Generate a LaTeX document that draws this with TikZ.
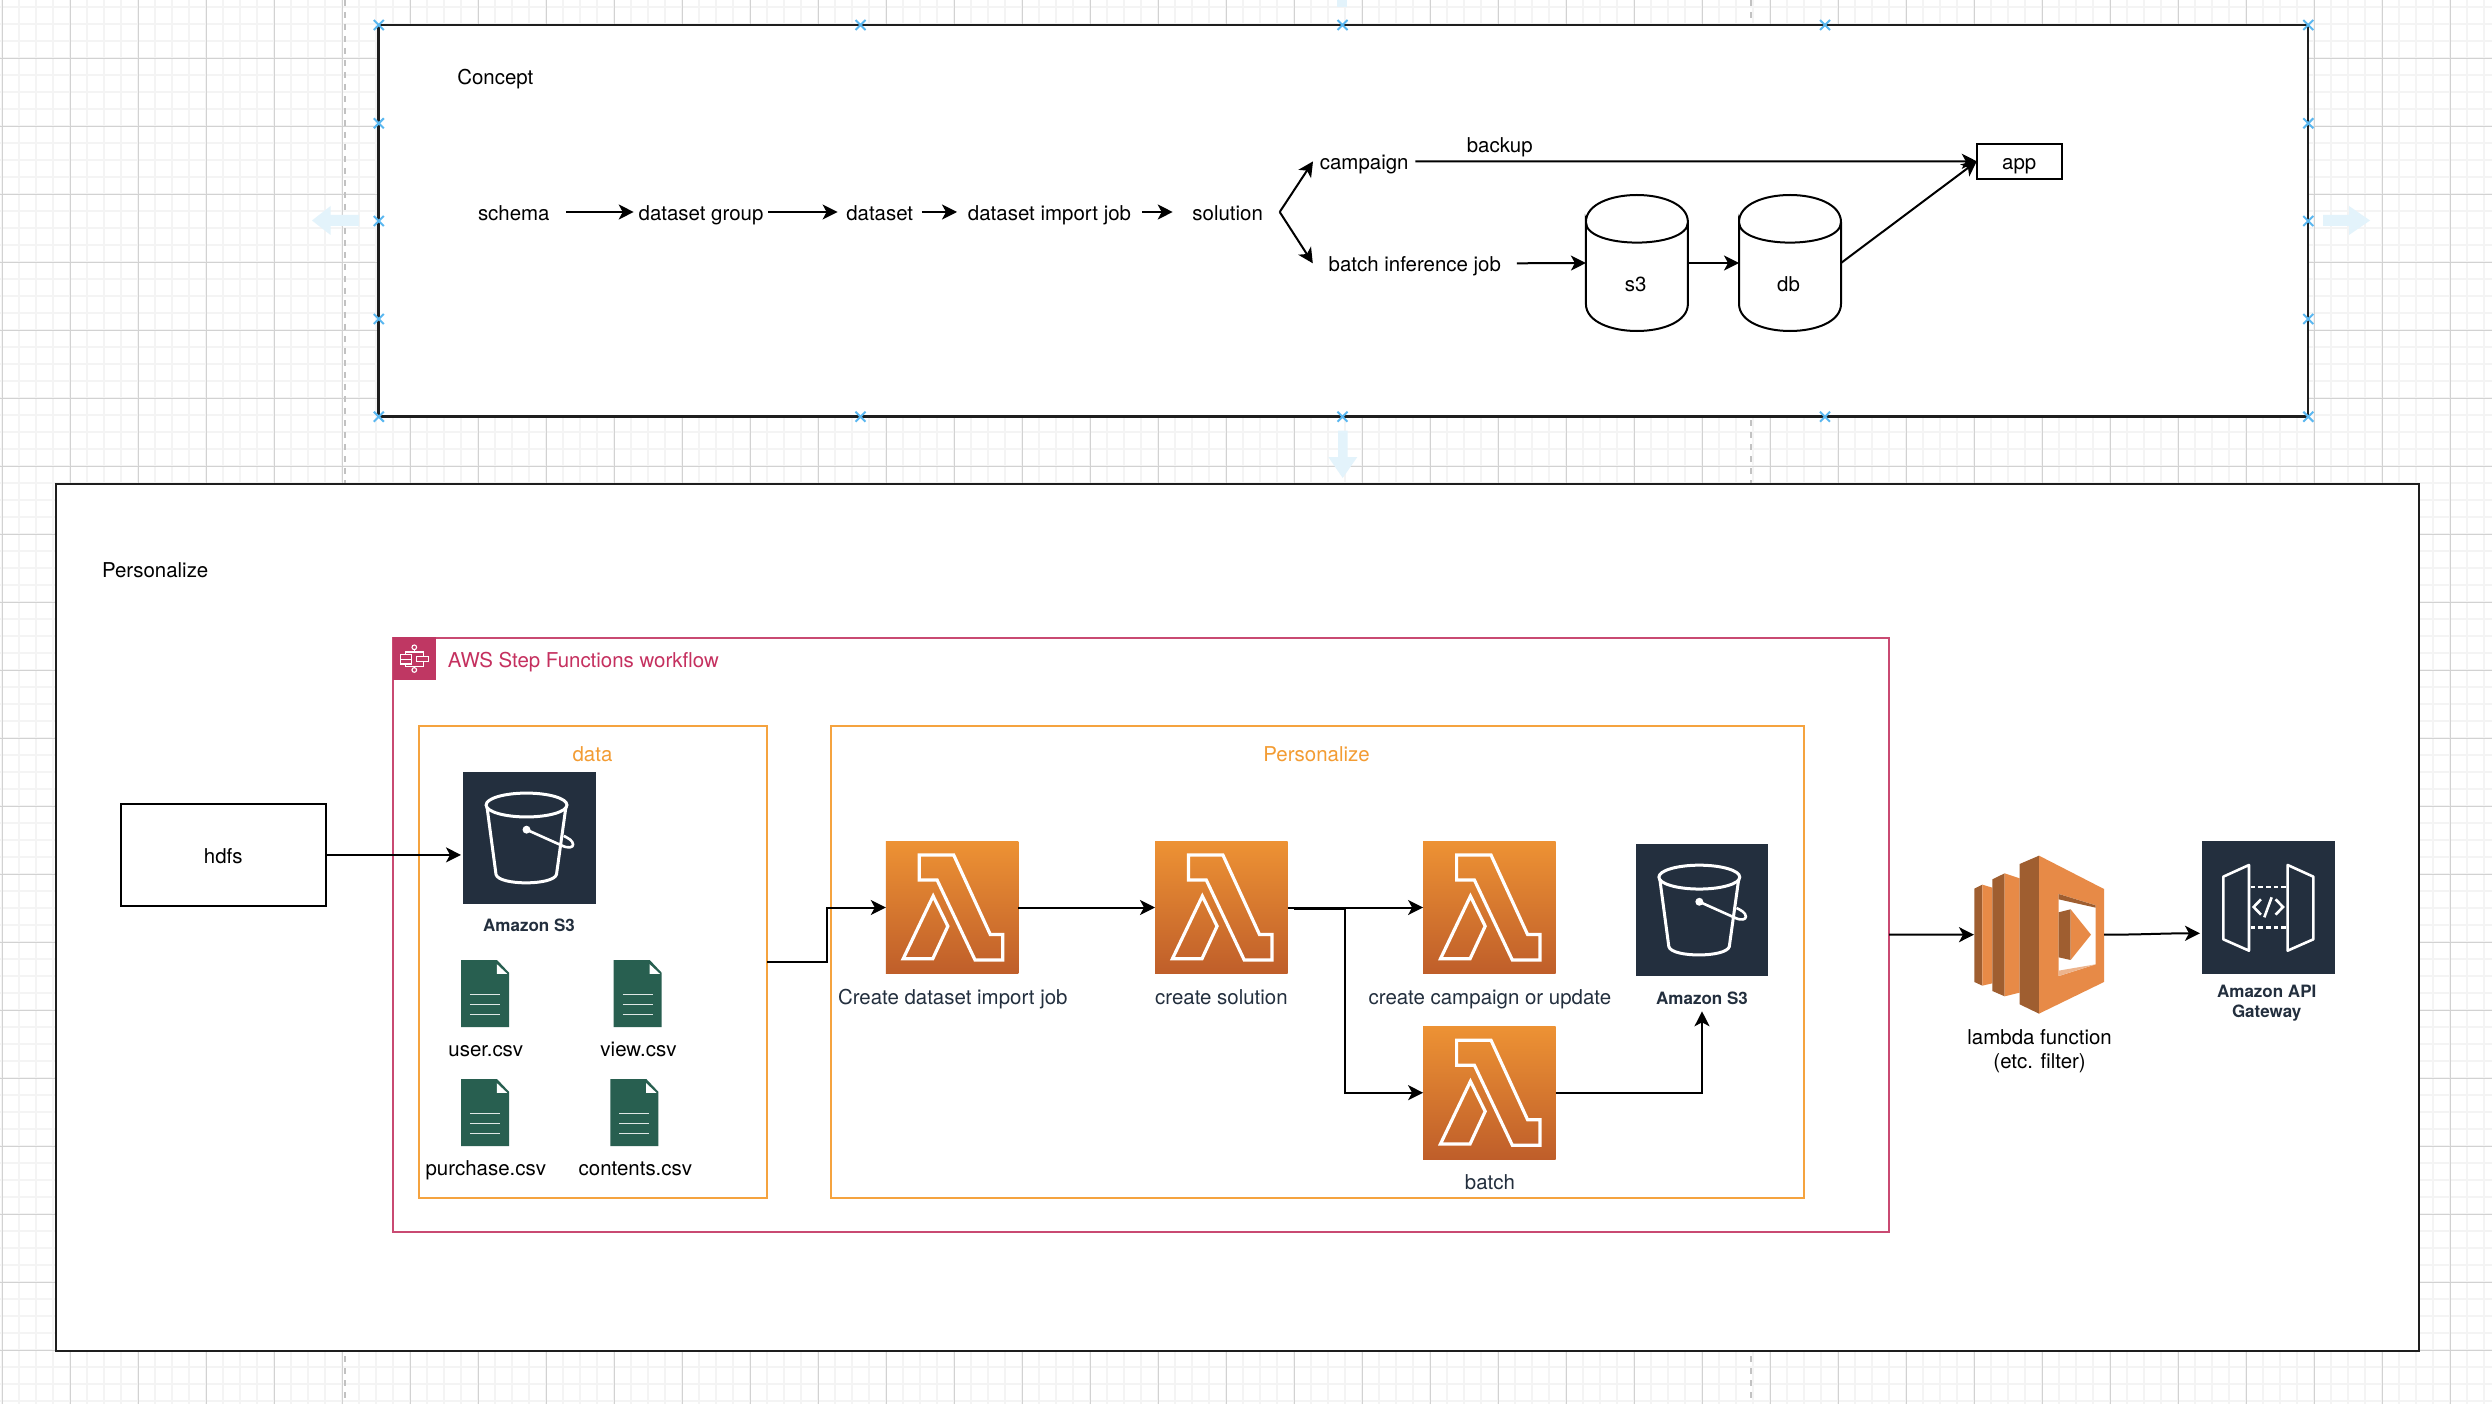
\documentclass[tikz,border=0pt]{standalone}
\usepackage{fontspec}
\setmainfont{TeX Gyre Heros}
\usetikzlibrary{arrows.meta,calc}
\definecolor{gridmajor}{HTML}{D2D2D2}
\definecolor{gridminor}{HTML}{F4F4F4}
\definecolor{pagedash}{HTML}{C2C2C2}
\definecolor{hintblue}{HTML}{5AB7F0}
\definecolor{ghostblue}{HTML}{E3F3FB}
\definecolor{framedark}{HTML}{1E1E1E}
\definecolor{awsdark}{HTML}{232F3E}
\definecolor{stepfill}{HTML}{BF3763}
\definecolor{stepline}{HTML}{C94A72}
\definecolor{steptext}{HTML}{C5305F}
\definecolor{boxorange}{HTML}{F5A33F}
\definecolor{textorange}{HTML}{F39C33}
\definecolor{lamtop}{HTML}{ED9234}
\definecolor{lambot}{HTML}{BF5E2A}
\definecolor{lflight}{HTML}{E78A47}
\definecolor{lfdark}{HTML}{9F5E30}
\definecolor{lfpale}{HTML}{EDB48C}
\definecolor{filegreen}{HTML}{285F50}
\newcommand\fnorm{\fontsize{20.45}{24}\selectfont}
\newcommand\fbold{\fontsize{17}{20}\selectfont\bfseries}
\tikzset{
  txt/.style={inner sep=0,outer sep=0,font=\fnorm,text height=19pt,text depth=3pt,text=black,align=center},
  rowtxt/.style={txt,text height=20pt,text depth=2pt},
  awstxt/.style={txt,text=awsdark},
  awsbold/.style={inner sep=0,outer sep=0,font=\fbold,text=awsdark,align=center,text height=16pt,text depth=2pt},
  block/.style={inner sep=0,outer sep=0,font=\fnorm,text=black,align=center},
  cnx/.style={draw=black,line width=2pt,-{Stealth[length=15pt,width=15pt,inset=4pt]}},
  frame/.style={draw=framedark,line width=2.2pt,fill=white,inner sep=0,outer sep=0},
  orangebox/.style={draw=boxorange,line width=2pt,inner sep=0,outer sep=0},
  lambdabox/.style={inner sep=0,outer sep=0,minimum width=132.6pt,minimum height=132.6pt,shading=axis,top color=lamtop,bottom color=lambot},
  darkbox/.style={inner sep=0,outer sep=0,minimum width=132.6pt,minimum height=132.6pt,fill=awsdark},
  filebox/.style={inner sep=0,outer sep=0,minimum width=48pt,minimum height=67pt},
  cylbox/.style={inner sep=0,outer sep=0,minimum width=102pt,minimum height=136pt},
  hintcross/.style={draw=hintblue,line width=2pt},
  glyph/.style={draw=white,line width=3.2pt,line join=miter},
  stepglyph/.style={draw=white,line width=1.1pt},
}
\newcommand\lambdaglyph[1]{%
  \begin{scope}[shift={(#1.north west)},x=132.6pt,y=-132.6pt]
    \draw[glyph] (.2525,.104)--(.512,.104)--(.788,.704)--(.882,.704)--(.882,.896)--(.673,.896)--(.387,.293)--(.2525,.293)--cycle;
    \draw[glyph] (.357,.414)--(.468,.641)--(.354,.887)--(.131,.887)--cycle;
  \end{scope}}
\newcommand\bucketglyph[1]{%
  \begin{scope}[shift={(#1.north west)},x=132.6pt,y=-132.6pt]
    \draw[glyph,line width=3pt] (.479,.252) ellipse [x radius=.305,y radius=.09];
    \draw[glyph,line width=3pt] (.181,.267)--(.249,.776) .. controls (.27,.86) and (.68,.86) .. (.705,.776)--(.776,.267);
    \draw[glyph,line width=2.6pt] (.479,.438)--(.74,.555) .. controls (.80,.585) and (.83,.57) .. (.83,.55) .. controls (.83,.52) and (.79,.50) .. (.76,.485);
    \fill[white] (.479,.438) circle [radius=.03];
  \end{scope}}
\newcommand\fileglyph[1]{%
  \begin{scope}[shift={(#1.north west)},x=48pt,y=-67pt]
    \fill[filegreen] (0,0)--(.75,0)--(1,.19)--(1,1)--(0,1)--cycle;
    \fill[white] (.748,.063)--(.963,.207)--(.748,.207)--cycle;
    \draw[white!85!filegreen,line width=1.3pt] (.187,.517)--(.813,.517) (.187,.667)--(.813,.667) (.187,.816)--(.813,.816);
  \end{scope}}
\newcommand\cylglyph[1]{%
  \begin{scope}[shift={(#1.north west)},x=102pt,y=-136pt]
    \draw[black,line width=2pt,fill=white] (0,.2) .. controls (0,-.0667) and (1,-.0667) .. (1,.2) .. controls (1,.4) and (0,.4) .. (0,.2) -- (0,.8) .. controls (0,1.0667) and (1,1.0667) .. (1,.8) -- (1,.2);
  \end{scope}}
\begin{document}
\begin{tikzpicture}[x=1pt,y=-1pt]
\useasboundingbox (0,0) rectangle (2492,1404);
\fill[white] (0,0) rectangle (2492,1404);
% grid
\foreach \k in {0,...,146} \draw[gridminor,line width=1.7pt] ({2+17*\k},0) -- ({2+17*\k},1404);
\foreach \k in {0,...,82} \draw[gridminor,line width=1.7pt] (0,{7.3+17*\k}) -- (2492,{7.3+17*\k});
\foreach \k in {0,...,36} \draw[gridmajor,line width=1.2pt] ({2.4+68*\k},0) -- ({2.4+68*\k},1404);
\foreach \k in {0,...,19} \draw[gridmajor,line width=1.2pt] (0,{58.3+68*\k}) -- (2492,{58.3+68*\k});
% page breaks
\draw[pagedash,line width=2pt,dash pattern=on 6pt off 6pt] (344.7,0) -- (344.7,1404);
\draw[pagedash,line width=2pt,dash pattern=on 6pt off 6pt] (1751,0) -- (1751,1404);
% ghost arrows
\fill[ghostblue] (359,215)--(330.6,215)--(330.6,206)--(312,220.5)--(330.6,235)--(330.6,226)--(359,226)--cycle;
\fill[ghostblue] (2323,215)--(2349,215)--(2349,206)--(2370,220.5)--(2349,235)--(2349,226)--(2323,226)--cycle;
\fill[ghostblue] (1337.3,0) rectangle (1346.7,6.7);
\fill[ghostblue] (1338,430.7)--(1338,457)--(1328.3,457)--(1342.7,478)--(1357.3,457)--(1347.7,457)--(1347.7,430.7)--cycle;
% frames
\node[frame,minimum width=1929.7pt,minimum height=391.5pt] (concept) at (1343.4,220.7) {};
\node[frame,minimum width=2363pt,minimum height=867pt] (personalize) at (1237.4,917.7) {};
\foreach \x in {378.8,860.5,1342.5,1825,2308.3} \foreach \y in {25,123.3,221,319,416.7} {
  \ifdim\x pt>380pt \ifdim\x pt<2300pt
    \ifdim\y pt>30pt \ifdim\y pt<410pt \else
      \draw[hintcross] (\x-5,\y-5) -- (\x+5,\y+5) (\x-5,\y+5) -- (\x+5,\y-5);
    \fi \else
      \draw[hintcross] (\x-5,\y-5) -- (\x+5,\y+5) (\x-5,\y+5) -- (\x+5,\y-5);
    \fi
  \else
    \draw[hintcross] (\x-5,\y-5) -- (\x+5,\y+5) (\x-5,\y+5) -- (\x+5,\y-5);
  \fi \else
    \draw[hintcross] (\x-5,\y-5) -- (\x+5,\y+5) (\x-5,\y+5) -- (\x+5,\y-5);
  \fi
}
% concept row
\node[txt] (conceptlabel) at (495.3,77) {Concept};
\node[rowtxt,minimum width=104.4pt] (schema) at (513.8,212) {schema};
\node[rowtxt,minimum width=134.6pt] (dsgroup) at (701,212) {dataset group};
\node[rowtxt,minimum width=84.2pt] (dataset) at (879.7,212) {dataset};
\node[rowtxt,minimum width=185pt] (importjob) at (1049.5,212) {dataset import job};
\node[rowtxt,minimum width=104pt] (solution) at (1227.7,212) {solution};
\node[txt,minimum width=102.4pt] (campaign) at (1364.2,161.4) {campaign};
\node[txt,minimum width=204pt] (batchjob) at (1414.8,263.3) {batch inference job};
\node[txt] (backuplabel) at (1499.7,144.7) {backup};
\node[draw=black,line width=2pt,fill=white,inner sep=0,outer sep=0,minimum width=84.8pt,minimum height=35pt,font=\fnorm,text height=19pt,text depth=3pt] (app) at (2019.2,161.3) {app};
\node[cylbox] (s3cyl) at (1636.9,263) {};
\cylglyph{s3cyl}
\node[txt] (s3label) at (1635.6,284) {s3};
\node[cylbox] (dbcyl) at (1790,263) {};
\cylglyph{dbcyl}
\node[txt] (dblabel) at (1788.5,284) {db};
\draw[cnx] (schema) -- (dsgroup);
\draw[cnx] (dsgroup) -- (dataset);
\draw[cnx] (dataset) -- (importjob);
\draw[cnx,shorten >=3pt] (importjob) -- (solution);
\draw[cnx] (solution.east) -- (campaign.west);
\draw[cnx] (solution.east) -- (batchjob.west);
\draw[cnx] (campaign.east) -- (app.west);
\draw[cnx] (batchjob.east) -- (s3cyl.west);
\draw[cnx] (s3cyl.east) -- (dbcyl.west);
\draw[cnx] (dbcyl.east) -- (app.west);
% personalize
\node[txt] (perslabel) at (155.2,569) {Personalize};
\node[draw=stepline,line width=2pt,inner sep=0,outer sep=0,minimum width=1495.6pt,minimum height=593.9pt] (stepbox) at (1141.2,934.6) {};
\node[inner sep=0,outer sep=0,minimum size=43pt,fill=stepfill] (stephead) at (414.2,658.2) {};
\begin{scope}[shift={(60,540)},x=.3333pt,y=-.3333pt]
  \draw[stepglyph] (1063,322) circle [radius=7] (1063,390) circle [radius=7];
  \draw[stepglyph] (1021,344) rectangle (1055,358) (1021,358) rectangle (1055,372) (1069,349) rectangle (1106,365);
  \draw[stepglyph] (1063,329)--(1063,336) (1036,344)--(1036,336)--(1090,336)--(1090,349) (1036,372)--(1036,380)--(1090,380)--(1090,365) (1063,380)--(1063,383);
\end{scope}
\node[txt,anchor=west,text=steptext] (steplabel) at (447.9,659) {AWS Step Functions workflow};
\node[orangebox,minimum width=348.2pt,minimum height=472.4pt] (databox) at (592.9,961.8) {};
\node[orangebox,minimum width=972.7pt,minimum height=472.4pt] (persbox) at (1317.4,961.8) {};
\node[txt,text=textorange] (datalabel) at (592.5,753) {data};
\node[txt,text=textorange] (perstitle) at (1316.5,753) {Personalize};
\node[draw=black,line width=2pt,fill=white,inner sep=0,outer sep=0,minimum width=204.7pt,minimum height=102.3pt,font=\fnorm,text height=20pt,text depth=2pt] (hdfs) at (223.3,854.9) {hdfs};
% s3 in data
\node[darkbox] (s3a) at (529.3,837.9) {};
\bucketglyph{s3a}
\node[awsbold] (s3alabel) at (529,924.5) {Amazon S3};
% files
\node[filebox] (f1) at (485,993.5) {}; \fileglyph{f1}
\node[filebox] (f2) at (637.7,993.5) {}; \fileglyph{f2}
\node[filebox] (f3) at (485,1112.5) {}; \fileglyph{f3}
\node[filebox] (f4) at (634.3,1112.5) {}; \fileglyph{f4}
\node[txt] (f1l) at (485.8,1048) {user.csv};
\node[txt] (f2l) at (638.5,1048) {view.csv};
\node[txt] (f3l) at (485.8,1167) {purchase.csv};
\node[txt] (f4l) at (635.4,1167) {contents.csv};
% lambdas
\node[lambdabox] (l1) at (952.1,907.5) {}; \lambdaglyph{l1}
\node[lambdabox] (l2) at (1221.3,907.5) {}; \lambdaglyph{l2}
\node[lambdabox] (l3) at (1489.4,907.5) {}; \lambdaglyph{l3}
\node[lambdabox] (l4) at (1489.4,1092.7) {}; \lambdaglyph{l4}
\node[darkbox] (s3b) at (1702.1,910) {}; \bucketglyph{s3b}
\node[awstxt] (l1l) at (952.8,996.5) {Create dataset import job};
\node[awstxt] (l2l) at (1221.4,996.5) {create solution};
\node[awstxt] (l3l) at (1489.9,996.5) {create campaign or update};
\node[awstxt] (l4l) at (1489.9,1181) {batch};
\node[awsbold,minimum height=28pt] (s3blabel) at (1702,997.3) {Amazon S3};
\coordinate (elbowstart) at (1294,909);
\draw[cnx,shorten >=2pt] (hdfs.east) -- (hdfs.east -| s3a.west);
\draw[cnx] (databox.east) -- ++(59.9,0) |- (l1.west);
\draw[cnx] (l1.east) -- (l2.west);
\draw[cnx] (l2.east) -- (l3.west);
\draw[cnx] (elbowstart) -- ++(51.4,0) |- (l4.west);
\draw[cnx] (l4.east) -| (s3blabel.south);
% lambda function
\node[inner sep=0,outer sep=0,minimum width=130pt,minimum height=158pt] (lf) at (2039,934.7) {};
\begin{scope}[shift={(1900,820)},x=.3333pt,y=-.3333pt]
  \fill[lfdark] (223,206)--(247,194)--(247,497)--(223,486)--cycle;
  \fill[lflight] (247,194)--(277,203)--(277,490)--(247,497)--cycle;
  \fill[lfdark] (277,178)--(314,160)--(314,529)--(277,513)--cycle;
  \fill[lflight] (314,160)--(359,175)--(359,518)--(314,529)--cycle;
  \fill[lfdark] (359,132)--(417,107)--(417,581)--(359,553)--cycle;
  \fill[lflight] (417,107)--(612,207)--(612,486)--(417,581)--cycle;
  \fill[white] (476,222)--(587,256)--(587,433)--(476,468)--cycle;
  \fill[lfdark] (476,222)--(587,256)--(587,263)--(476,238)--cycle;
  \fill[lfpale] (476,452)--(587,433)--(476,468)--cycle;
  \fill[lfdark] (476,277)--(512,268)--(512,420)--(476,412)--cycle;
  \fill[lflight] (512,268)--(573,344)--(512,420)--cycle;
\end{scope}
\node[block] (lflabel) at (2039.6,1050.8) {lambda function\\(etc. filter)};
% api gateway
\node[darkbox] (api) at (2268.4,907.5) {};
\begin{scope}[shift={(1900,820)},x=.3333pt,y=-.3333pt]
  \draw[white,line width=2.6pt,line join=round] (1047,135)--(970,170)--(970,358)--(1047,392)--cycle;
  \draw[white,line width=2.6pt,line join=round] (1163,135)--(1240,170)--(1240,358)--(1163,392)--cycle;
  \draw[white,line width=2.4pt,dash pattern=on 4.5pt off 3.2pt] (1052,201)--(1160,201) (1052,322)--(1160,322);
  \draw[white,line width=2.6pt,line join=miter] (1083,238)--(1061,261)--(1083,284) (1127,238)--(1149,261)--(1127,284) (1115,232)--(1093,292);
\end{scope}
\node[awsbold,text height=,text depth=] (apilabel) at (2266.7,1003) {Amazon API\\Gateway};
\draw[cnx] (stepbox.east) -- (lf.west);
\coordinate (apientry) at (2200,933.3);
\draw[cnx] (lf.east) to[out=0,in=180] (apientry);
\end{tikzpicture}
\end{document}
